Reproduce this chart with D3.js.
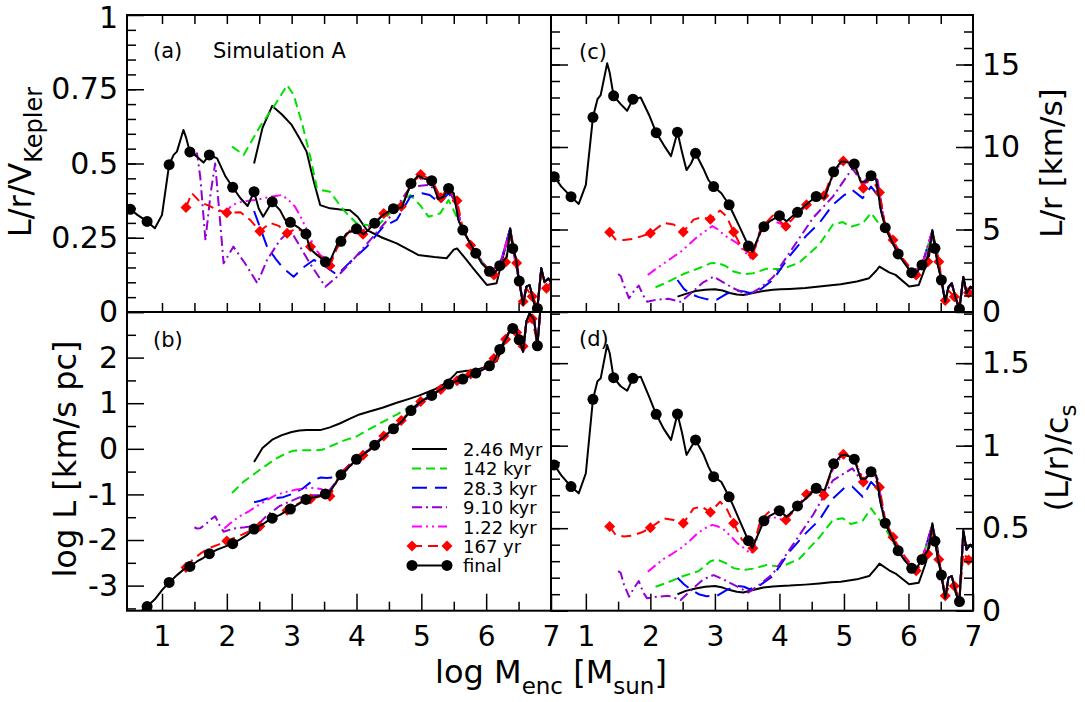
<!DOCTYPE html>
<html>
<head>
<meta charset="utf-8">
<script src="https://cdn.jsdelivr.net/npm/d3@7"></script>
<style>
  body { margin: 0; background: #fff; }
  svg text { font-family: "DejaVu Sans", sans-serif; fill: #000; }
</style>
</head>
<body>
<div id="mainContainer"><svg></svg></div>
<script>
// ---- data (log M_enc on x, one array per panel: a = L/r/V_K, b = log L, c = L/r, d = (L/r)/c_s)

const finalX = [0.51,0.62,0.77,0.89,1.00,1.11,1.18,1.23,1.33,1.37,1.43,1.54,1.64,1.73,1.85,1.98,2.09,2.21,2.32,2.42,2.49,2.56,2.63,2.70,2.82,2.90,2.98,3.10,3.22,3.28,3.39,3.52,3.58,3.70,3.76,3.85,4.00,4.11,4.20,4.28,4.41,4.57,4.70,4.84,4.95,5.03,5.16,5.26,5.34,5.42,5.50,5.57,5.64,5.84,5.93,6.05,6.11,6.21,6.32,6.37,6.41,6.46,6.51,6.57,6.62,6.67,6.74,6.79,6.85,6.90,6.96,7.00];
const finalA = [0.346,0.327,0.305,0.282,0.327,0.496,0.529,0.54,0.613,0.588,0.539,0.523,0.503,0.529,0.517,0.456,0.420,0.383,0.357,0.405,0.349,0.321,0.346,0.371,0.343,0.310,0.302,0.285,0.263,0.214,0.192,0.169,0.166,0.226,0.238,0.265,0.280,0.262,0.28,0.299,0.327,0.348,0.352,0.433,0.459,0.450,0.442,0.380,0.388,0.416,0.400,0.310,0.276,0.198,0.164,0.137,0.125,0.156,0.186,0.282,0.214,0.18,0.104,0.024,0.085,0.091,0.029,0.012,0.147,0.102,0.113,0.10];
const finalB = [-3.75,-3.62,-3.46,-3.30,-3.10,-2.93,-2.84,-2.77,-2.65,-2.62,-2.58,-2.47,-2.39,-2.30,-2.21,-2.14,-2.08,-1.98,-1.88,-1.76,-1.70,-1.65,-1.58,-1.52,-1.45,-1.38,-1.32,-1.22,-1.11,-1.08,-1.05,-0.99,-0.97,-0.70,-0.57,-0.45,-0.23,-0.12,-0.03,0.08,0.25,0.44,0.60,0.84,0.99,1.07,1.17,1.27,1.33,1.42,1.46,1.50,1.53,1.66,1.72,1.82,1.90,2.18,2.45,2.61,2.64,2.58,2.39,2.13,2.79,2.97,2.83,2.26,3.3,3.3,3.3,3.3];
const finalC = [8.2,7.6,6.99,6.55,7.7,11.8,12.9,13.15,15.07,14.5,13.1,12.6,12.2,12.9,13.0,11.94,10.87,10.1,9.45,10.9,9.7,8.6,9.0,9.62,8.7,8.0,7.6,7.2,6.5,6.0,5.1,4.0,3.65,4.8,5.17,5.5,5.84,5.5,5.8,6.04,6.5,7.0,6.9,8.5,9.1,9.1,8.97,7.9,7.9,8.26,8.0,6.2,5.11,3.52,3.0,2.38,2.3,2.85,3.4,4.97,3.86,2.75,1.94,0.62,1.53,1.74,0.73,0.18,2.14,1.13,1.53,1.4];
const finalD = [0.883,0.82,0.752,0.711,0.833,1.281,1.39,1.408,1.61,1.56,1.412,1.36,1.333,1.408,1.418,1.297,1.19,1.10,1.035,1.192,1.08,0.944,0.99,1.035,0.95,0.873,0.812,0.78,0.69,0.64,0.54,0.424,0.38,0.49,0.545,0.575,0.606,0.57,0.60,0.635,0.68,0.742,0.73,0.89,0.94,0.945,0.918,0.80,0.80,0.842,0.82,0.65,0.53,0.364,0.31,0.257,0.248,0.311,0.38,0.53,0.421,0.31,0.216,0.075,0.2,0.21,0.1,0.055,0.49,0.37,0.40,0.38];
const finalMarks = [0.51,0.77,1.11,1.43,1.73,2.09,2.42,2.70,2.98,3.22,3.52,3.76,4.00,4.28,4.57,4.84,5.16,5.42,5.64,5.84,6.05,6.21,6.41,6.51,6.79];

const yr167X = [1.37,1.46,1.59,1.72,1.87,2.00,2.21,2.36,2.51,2.67,2.80,2.93,3.08,3.18,3.29,3.42,3.59,3.70,3.80,3.90,4.10,4.28,4.42,4.57,4.69,4.84,4.99,5.16,5.30,5.42,5.55,5.64,5.76,5.92,6.12,6.21,6.30,6.37,6.47,6.57,6.62,6.71,6.79,6.85,6.93,7.00];
const yr167A = [0.352,0.40,0.37,0.358,0.343,0.334,0.336,0.31,0.272,0.30,0.29,0.265,0.282,0.27,0.22,0.19,0.156,0.215,0.245,0.275,0.262,0.30,0.332,0.345,0.355,0.43,0.463,0.445,0.385,0.42,0.375,0.28,0.225,0.17,0.125,0.155,0.168,0.27,0.165,0.035,0.08,0.052,0.02,0.14,0.08,0.10];
const yr167B = [-2.60,-2.45,-2.30,-2.18,-2.10,-2.02,-1.90,-1.80,-1.70,-1.55,-1.44,-1.35,-1.22,-1.14,-1.10,-1.05,-1.04,-0.70,-0.47,-0.35,-0.14,0.10,0.28,0.46,0.62,0.84,1.04,1.19,1.30,1.42,1.49,1.55,1.64,1.74,1.98,2.15,2.40,2.65,2.55,2.25,2.75,2.85,2.30,3.2,3.2,3.2];
const yr167C = [4.83,4.4,4.36,4.42,4.6,4.77,5.4,5.3,4.85,5.6,5.75,5.62,6.15,5.8,4.85,3.85,3.45,4.95,5.45,5.85,5.2,5.95,6.5,6.95,7.05,8.6,9.15,8.95,7.5,8.2,7.25,5.2,4.36,3.2,2.24,2.7,3.05,4.7,3.05,0.7,1.3,0.93,0.5,1.9,1.17,1.4];
const yr167D = [0.51,0.46,0.45,0.455,0.475,0.503,0.56,0.55,0.53,0.62,0.63,0.596,0.66,0.62,0.53,0.43,0.378,0.54,0.585,0.62,0.55,0.63,0.705,0.74,0.70,0.89,0.948,0.92,0.78,0.84,0.748,0.55,0.445,0.34,0.242,0.29,0.344,0.48,0.311,0.09,0.14,0.15,0.07,0.35,0.307,0.33];
const yr167Marks = [1.37,2.00,2.51,2.93,3.29,3.59,4.10,4.42,4.69,4.99,5.30,5.55,5.76,6.12,6.30,6.47,6.57,6.71,6.93];

const myrX = [2.42,2.55,2.70,2.85,3.00,3.12,3.23,3.34,3.44,3.59,3.75,3.90,4.02,4.16,4.40,4.62,4.80,4.95,5.20,5.39,5.50,5.55,5.70,5.80,6.01,6.16,6.26,6.37,6.44,6.51,6.57,6.62,6.67,6.74,6.79,6.85,6.90,6.96,7.00];
const myrA = [0.50,0.62,0.694,0.665,0.63,0.585,0.54,0.44,0.36,0.349,0.345,0.343,0.32,0.276,0.25,0.231,0.21,0.192,0.185,0.181,0.21,0.214,0.175,0.147,0.091,0.097,0.186,0.28,0.20,0.10,0.024,0.085,0.09,0.03,0.01,0.147,0.10,0.113,0.10];
const myrB = [-0.29,0.02,0.20,0.30,0.37,0.40,0.41,0.41,0.41,0.47,0.56,0.66,0.74,0.80,0.90,1.01,1.09,1.16,1.30,1.45,1.60,1.68,1.71,1.71,1.80,1.92,2.25,2.62,2.61,2.39,2.13,2.79,2.97,2.83,2.26,3.3,3.3,3.3,3.3];
const myrC = [0.93,1.1,1.27,1.35,1.38,1.3,1.15,1.06,1.03,1.15,1.27,1.35,1.38,1.40,1.45,1.55,1.62,1.68,1.85,2.05,2.5,2.75,2.4,2.25,1.55,1.64,2.7,4.9,3.7,1.9,0.62,1.5,1.74,0.73,0.2,2.1,1.13,1.53,1.4];
const myrD = [0.10,0.12,0.135,0.145,0.15,0.14,0.125,0.115,0.11,0.125,0.14,0.147,0.15,0.152,0.158,0.165,0.172,0.176,0.19,0.21,0.26,0.285,0.245,0.225,0.16,0.17,0.28,0.52,0.40,0.22,0.075,0.2,0.21,0.1,0.06,0.48,0.37,0.40,0.38];

const kyr142X = [2.08,2.26,2.51,2.75,2.93,3.03,3.16,3.29,3.39,3.47,3.59,3.80,4.00,4.11,4.31,4.62,4.83,4.98,5.11,5.29,5.42,5.57,5.64,5.84,6.05,6.21,6.37,6.41,6.51,6.57,6.62,6.67,6.74,6.79,6.85,6.90,6.96,7.00];
const kyr142A = [0.557,0.529,0.624,0.70,0.764,0.731,0.635,0.52,0.417,0.41,0.405,0.343,0.299,0.295,0.287,0.355,0.394,0.36,0.321,0.332,0.377,0.31,0.276,0.198,0.137,0.156,0.28,0.214,0.104,0.03,0.085,0.09,0.03,0.015,0.147,0.10,0.113,0.10];
const kyr142B = [-0.97,-0.72,-0.46,-0.22,-0.09,-0.04,-0.03,-0.03,-0.03,-0.02,0.05,0.18,0.27,0.36,0.52,0.75,0.93,1.05,1.14,1.30,1.42,1.50,1.53,1.66,1.82,2.18,2.61,2.64,2.39,2.13,2.79,2.97,2.83,2.26,3.3,3.3,3.3,3.3];
const kyr142C = [1.5,1.8,2.3,2.65,2.95,2.98,2.8,2.45,2.35,2.3,2.35,2.62,2.6,2.7,3.0,4.1,5.3,5.45,5.17,5.38,6.0,5.2,5.0,3.5,2.35,2.85,4.9,3.86,1.94,0.62,1.5,1.74,0.73,0.2,2.1,1.13,1.53,1.4];
const kyr142D = [0.145,0.17,0.21,0.24,0.30,0.31,0.29,0.258,0.25,0.248,0.255,0.277,0.268,0.28,0.315,0.445,0.55,0.56,0.525,0.545,0.62,0.54,0.50,0.36,0.255,0.31,0.52,0.42,0.22,0.075,0.2,0.21,0.1,0.06,0.48,0.37,0.40,0.38];

const kyr28X = [2.42,2.52,2.62,2.75,2.87,3.03,3.18,3.34,3.45,3.54,3.70,3.90,4.16,4.41,4.62,4.83,5.01,5.13,5.29,5.42,5.52,5.64,5.84,6.05,6.21,6.37,6.41,6.51,6.57,6.62,6.67,6.74,6.79,6.85,6.90,6.96,7.00];
const kyr28A = [0.34,0.28,0.22,0.18,0.147,0.119,0.150,0.175,0.165,0.150,0.125,0.168,0.22,0.287,0.31,0.388,0.40,0.394,0.366,0.40,0.37,0.276,0.198,0.137,0.156,0.28,0.214,0.104,0.03,0.085,0.09,0.03,0.015,0.147,0.10,0.113,0.10];
const kyr28B = [-1.17,-1.14,-1.09,-1.08,-1.06,-0.98,-0.86,-0.68,-0.63,-0.64,-0.62,-0.33,-0.05,0.27,0.50,0.84,1.06,1.15,1.29,1.42,1.48,1.53,1.66,1.82,2.18,2.61,2.64,2.39,2.13,2.79,2.97,2.83,2.26,3.3,3.3,3.3,3.3];
const kyr28C = [1.94,1.4,1.1,0.9,0.78,0.75,1.1,1.3,1.25,1.15,1.35,1.95,3.4,4.6,5.4,6.5,7.1,7.39,6.9,7.6,7.1,5.1,3.5,2.38,2.85,4.9,3.86,1.94,0.62,1.5,1.74,0.73,0.2,2.1,1.13,1.53,1.4];
const kyr28D = [0.2,0.16,0.13,0.10,0.088,0.09,0.125,0.15,0.145,0.13,0.155,0.21,0.36,0.47,0.55,0.68,0.745,0.752,0.69,0.78,0.74,0.53,0.364,0.257,0.311,0.52,0.421,0.216,0.075,0.2,0.21,0.1,0.06,0.48,0.37,0.40,0.38];

const kyr9X = [1.50,1.54,1.59,1.67,1.75,1.82,1.89,1.95,2.10,2.28,2.47,2.62,2.82,2.98,3.13,3.28,3.52,3.70,3.90,4.21,4.52,4.83,5.13,5.29,5.42,5.52,5.64,5.84,6.05,6.21,6.37,6.41,6.51,6.57,6.62,6.67,6.74,6.79,6.85,6.90,6.96,7.00];
const kyr9A = [0.53,0.534,0.455,0.242,0.40,0.50,0.321,0.164,0.22,0.164,0.097,0.175,0.242,0.276,0.22,0.164,0.085,0.119,0.164,0.242,0.321,0.422,0.428,0.39,0.41,0.37,0.276,0.198,0.137,0.156,0.28,0.214,0.104,0.03,0.085,0.09,0.03,0.015,0.147,0.10,0.113,0.10];
const kyr9B = [-1.72,-1.75,-1.74,-1.66,-1.55,-1.48,-1.68,-1.82,-1.75,-1.72,-1.68,-1.46,-1.25,-1.15,-1.06,-1.02,-1.02,-0.70,-0.38,0.0,0.38,0.82,1.14,1.29,1.42,1.48,1.53,1.66,1.82,2.18,2.61,2.64,2.39,2.13,2.79,2.97,2.83,2.26,3.3,3.3,3.3,3.3];
const kyr9C = [2.3,2.18,1.6,0.83,1.3,1.6,1.0,0.62,0.75,0.8,0.62,1.1,1.8,2.14,1.8,1.45,1.03,1.45,2.1,3.9,5.7,7.0,8.7,7.8,8.4,8.0,5.11,3.52,2.38,2.85,4.9,3.86,1.94,0.62,1.5,1.74,0.73,0.2,2.1,1.13,1.53,1.4];
const kyr9D = [0.24,0.23,0.16,0.085,0.14,0.18,0.11,0.075,0.085,0.09,0.065,0.12,0.19,0.216,0.19,0.16,0.11,0.16,0.225,0.40,0.58,0.79,0.863,0.78,0.85,0.80,0.53,0.364,0.257,0.311,0.52,0.421,0.216,0.075,0.2,0.21,0.1,0.06,0.48,0.37,0.40,0.38];

const kyr1X = [1.96,2.08,2.21,2.34,2.47,2.60,2.73,2.85,2.96,3.05,3.14,3.25,3.35,3.45,3.56,3.62,3.71,3.87,4.07,4.28,4.41,4.57,4.70,4.84,4.95,5.16,5.30,5.42,5.52,5.64,5.84,6.05,6.21,6.37,6.41,6.51,6.57,6.62,6.67,6.74,6.79,6.85,6.90,6.96,7.00];
const kyr1A = [0.33,0.36,0.37,0.375,0.378,0.385,0.39,0.394,0.375,0.355,0.32,0.27,0.215,0.19,0.175,0.18,0.23,0.27,0.27,0.30,0.33,0.345,0.355,0.43,0.455,0.435,0.38,0.41,0.39,0.276,0.198,0.137,0.156,0.28,0.214,0.104,0.03,0.085,0.09,0.03,0.015,0.147,0.10,0.113,0.10];
const kyr1B = [-1.75,-1.60,-1.47,-1.37,-1.25,-1.14,-1.03,-0.97,-0.93,-0.90,-0.88,-0.86,-0.86,-0.88,-0.95,-0.90,-0.65,-0.42,-0.17,0.08,0.25,0.44,0.60,0.84,0.99,1.17,1.30,1.42,1.48,1.53,1.66,1.82,2.18,2.61,2.64,2.39,2.13,2.79,2.97,2.83,2.26,3.3,3.3,3.3,3.3];
const kyr1C = [2.24,2.6,2.95,3.3,3.65,4.1,4.56,4.9,5.21,5.0,4.67,4.4,4.16,3.7,3.25,3.8,4.87,5.58,5.27,5.98,6.4,6.9,6.9,8.4,9.0,8.9,7.7,8.1,7.9,5.11,3.52,2.38,2.85,4.9,3.86,1.94,0.62,1.5,1.74,0.73,0.2,2.1,1.13,1.53,1.4];
const kyr1D = [0.236,0.275,0.315,0.345,0.378,0.42,0.469,0.50,0.52,0.51,0.49,0.45,0.408,0.38,0.344,0.40,0.52,0.57,0.55,0.64,0.68,0.73,0.72,0.87,0.93,0.91,0.80,0.83,0.80,0.53,0.364,0.257,0.311,0.52,0.421,0.216,0.075,0.2,0.21,0.1,0.06,0.48,0.37,0.40,0.38];

// ---- layout

const SVG_WIDTH = 1085;
const SVG_HEIGHT = 702;
const X_LEFT = 127, X_MID = 551, X_RIGHT = 973;
const Y_TOP = 15, Y_MID = 312, Y_BOTTOM = 610.7;
const X_DOMAIN = [0.46, 7];

const svg = d3.select('#mainContainer').select('svg')
    .attr('width', SVG_WIDTH)
    .attr('height', SVG_HEIGHT);

const series = [
    { name: '2.46 Myr', color: '#000000', dash: null, x: myrX, y: { a: myrA, b: myrB, c: myrC, d: myrD } },
    { name: '142 kyr', color: '#00e000', dash: '9,5', x: kyr142X, y: { a: kyr142A, b: kyr142B, c: kyr142C, d: kyr142D } },
    { name: '28.3 kyr', color: '#0000ff', dash: '15,8', x: kyr28X, y: { a: kyr28A, b: kyr28B, c: kyr28C, d: kyr28D } },
    { name: '9.10 kyr', color: '#9400d3', dash: '10,4,2,4', x: kyr9X, y: { a: kyr9A, b: kyr9B, c: kyr9C, d: kyr9D } },
    { name: '1.22 kyr', color: '#ff00ff', dash: '10,4,2,4,2,4', x: kyr1X, y: { a: kyr1A, b: kyr1B, c: kyr1C, d: kyr1D } },
    { name: '167 yr', color: '#ff0000', dash: '10,6', marker: 'diamond', marks: yr167Marks, x: yr167X, y: { a: yr167A, b: yr167B, c: yr167C, d: yr167D } },
    { name: 'final', color: '#000000', dash: null, marker: 'circle', marks: finalMarks, x: finalX, y: { a: finalA, b: finalB, c: finalC, d: finalD } }
];

const panels = [
    { key: 'a', x0: X_LEFT, x1: X_MID, y0: Y_TOP, y1: Y_MID, yDomain: [0, 1] },
    { key: 'b', x0: X_LEFT, x1: X_MID, y0: Y_MID, y1: Y_BOTTOM, yDomain: [-3.55, 3] },
    { key: 'c', x0: X_MID, x1: X_RIGHT, y0: Y_TOP, y1: Y_MID, yDomain: [0, 18] },
    { key: 'd', x0: X_MID, x1: X_RIGHT, y0: Y_MID, y1: Y_BOTTOM, yDomain: [0, 1.81] }
];

panels.forEach(p => {
    p.xs = d3.scaleLinear().domain(X_DOMAIN).range([p.x0, p.x1]);
    p.ys = d3.scaleLinear().domain(p.yDomain).range([p.y1, p.y0]);
});

function diamondPath(s) {
    return `M0,${-s}L${s},0L0,${s}L${-s},0Z`;
}

function drawMarker(g, kind, color, cx, cy) {
    if (kind === 'circle') {
        g.append('circle').attr('cx', cx).attr('cy', cy).attr('r', 5.5).attr('fill', color);
    } else if (kind === 'diamond') {
        g.append('path').attr('d', diamondPath(5.5))
            .attr('transform', `translate(${cx},${cy})`).attr('fill', color);
    }
}

// ---- curves

panels.forEach(p => {
    svg.append('clipPath').attr('id', 'clip-' + p.key)
        .append('rect')
        .attr('x', p.x0).attr('y', p.y0)
        .attr('width', p.x1 - p.x0).attr('height', p.y1 - p.y0);

    let g = svg.append('g').attr('clip-path', `url(#clip-${p.key})`);

    series.forEach(s => {
        let pts = s.x.map((x, i) => [x, s.y[p.key][i]]);
        let line = d3.line().x(d => p.xs(d[0])).y(d => p.ys(d[1]));
        g.append('path')
            .datum(pts)
            .attr('d', line)
            .attr('fill', 'none')
            .attr('stroke', s.color)
            .attr('stroke-width', 2)
            .attr('stroke-linejoin', 'round')
            .attr('stroke-dasharray', s.dash);

        if (s.marker) {
            pts.filter(d => s.marks.includes(d[0])).forEach(d => {
                drawMarker(g, s.marker, s.color, p.xs(d[0]), p.ys(d[1]));
            });
        }
    });
});

// ---- frames and ticks

function styleAxis(g, size) {
    g.select('.domain').remove();
    g.attr('font-family', '"DejaVu Sans", sans-serif').attr('font-size', size);
    g.selectAll('line').attr('stroke', '#000').attr('stroke-width', 1.5);
}

const halfTicks = d3.range(1, 7, 0.5);
const intTicks = d3.range(1, 8, 1);
const halfOnly = d3.range(1.5, 7, 1);

panels.forEach(p => {
    let isTop = p.key === 'a' || p.key === 'c';
    if (isTop) {
        svg.append('g').attr('transform', `translate(0,${p.y0})`)
            .call(d3.axisTop(p.xs).tickValues(halfTicks).tickSize(-9).tickFormat(''))
            .call(g => styleAxis(g, 10));
        svg.append('g').attr('transform', `translate(0,${p.y1})`)
            .call(d3.axisBottom(p.xs).tickValues(halfTicks).tickSize(-9).tickFormat(''))
            .call(g => styleAxis(g, 10));
    } else {
        svg.append('g').attr('transform', `translate(0,${p.y1})`)
            .call(d3.axisBottom(p.xs).tickValues(intTicks).tickSize(-17).tickPadding(15).tickFormat(d3.format('d')))
            .call(g => styleAxis(g, 28));
        svg.append('g').attr('transform', `translate(0,${p.y1})`)
            .call(d3.axisBottom(p.xs).tickValues(halfOnly).tickSize(-9).tickFormat(''))
            .call(g => styleAxis(g, 10));
    }
});

const yTicks = {
    a: { major: [0, 0.25, 0.5, 0.75, 1], minor: d3.range(0.05, 1, 0.05), labels: [0, 0.25, 0.5, 0.75, 1] },
    b: { major: [-3, -2, -1, 0, 1, 2, 3], minor: d3.range(-3.5, 3, 1), labels: [-3, -2, -1, 0, 1, 2] },
    c: { major: [0, 5, 10, 15], minor: d3.range(1, 18, 1), labels: [0, 5, 10, 15] },
    d: { major: [0, 0.5, 1, 1.5], minor: d3.range(0.1, 1.81, 0.1), labels: [0, 0.5, 1, 1.5] }
};

panels.forEach(p => {
    let t = yTicks[p.key];
    let labelFmt = d => t.labels.some(v => Math.abs(v - d) < 1e-9) ? String(d) : '';
    let edges = (p.key === 'a' || p.key === 'b') ? [['left', p.x0, true]] : [['left', p.x0, false], ['right', p.x1, true]];
    edges.forEach(([side, x, withLabels]) => {
        let axis = side === 'left' ? d3.axisLeft(p.ys) : d3.axisRight(p.ys);
        svg.append('g').attr('transform', `translate(${x},0)`)
            .call(axis.tickValues(t.major).tickSize(-17).tickPadding(9).tickFormat(withLabels ? labelFmt : ''))
            .call(g => styleAxis(g, 30))
            // the top label sits on the page edge: nudge it down a little
            .call(g => g.selectAll('.tick text').filter(d => p.key === 'a' && d === 1).attr('dy', '0.43em'));
        let minorAxis = side === 'left' ? d3.axisLeft(p.ys) : d3.axisRight(p.ys);
        svg.append('g').attr('transform', `translate(${x},0)`)
            .call(minorAxis.tickValues(t.minor).tickSize(-9).tickFormat(''))
            .call(g => styleAxis(g, 10));
    });

    svg.append('rect')
        .attr('x', p.x0).attr('y', p.y0)
        .attr('width', p.x1 - p.x0).attr('height', p.y1 - p.y0)
        .attr('fill', 'none').attr('stroke', '#000').attr('stroke-width', 2);
});

// ---- texts

const panelText = [['(a)', 153, 58], ['(b)', 153, 347], ['(c)', 579, 59], ['(d)', 579, 346]];
panelText.forEach(([t, x, y]) => {
    svg.append('text').attr('x', x).attr('y', y).attr('font-size', 21).text(t);
});
svg.append('text').attr('x', 213).attr('y', 58).attr('font-size', 21).text('Simulation A');

function rotatedTitle(x, y, parts) {
    let t = svg.append('text')
        .attr('transform', `translate(${x},${y}) rotate(-90)`)
        .attr('text-anchor', 'middle')
        .attr('font-size', 32);
    parts.forEach(([txt, size, dy]) => {
        t.append('tspan').attr('font-size', size).attr('dy', dy).text(txt);
    });
}

rotatedTitle(31, 162, [['L/r/V', 32, 0], ['Kepler', 24, 11]]);
rotatedTitle(76, 459, [['log L [km/s pc]', 32, 0]]);
rotatedTitle(1062, 163, [['L/r [km/s]', 31, 0]]);
rotatedTitle(1068, 458, [['(L/r)/c', 32, 0], ['s', 23, 8]]);

let xTitle = svg.append('text').attr('x', 551).attr('y', 683).attr('text-anchor', 'middle').attr('font-size', 32);
[['log M', 32, 0], ['enc', 23, 11], [' [M', 32, -11], ['sun', 23, 11], [']', 32, -11]].forEach(([txt, size, dy]) => {
    xTitle.append('tspan').attr('font-size', size).attr('dy', dy).text(txt);
});

// ---- legend

const LEGEND_X0 = 412, LEGEND_X1 = 447, LEGEND_TEXT_X = 463, LEGEND_Y = 449, LEGEND_STEP = 19.4;
let legend = svg.append('g');
series.forEach((s, i) => {
    let y = LEGEND_Y + i * LEGEND_STEP;
    legend.append('line')
        .attr('x1', LEGEND_X0).attr('x2', LEGEND_X1)
        .attr('y1', y).attr('y2', y)
        .attr('stroke', s.color).attr('stroke-width', 2)
        .attr('stroke-dasharray', s.dash);
    if (s.marker) {
        drawMarker(legend, s.marker, s.color, LEGEND_X0, y);
        drawMarker(legend, s.marker, s.color, LEGEND_X1, y);
    }
    legend.append('text').attr('x', LEGEND_TEXT_X).attr('y', y + 7).attr('font-size', 18).text(s.name);
});
</script>
</body>
</html>
